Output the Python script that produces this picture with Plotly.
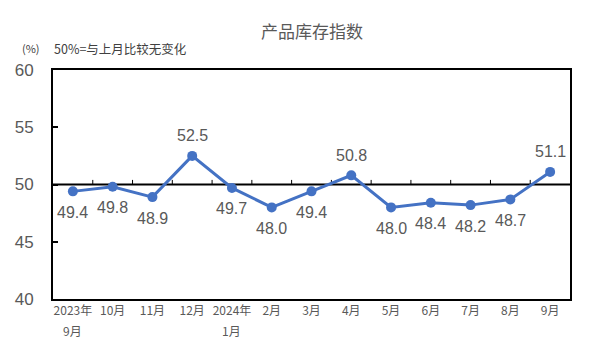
import plotly.graph_objects as go

cat_line1 = ["2023年", "10月", "11月", "12月", "2024年", "2月", "3月", "4月", "5月", "6月", "7月", "8月", "9月"]
cat_line2 = ["9月", "", "", "", "1月", "", "", "", "", "", "", "", ""]
values = [49.4, 49.8, 48.9, 52.5, 49.7, 48.0, 49.4, 50.8, 48.0, 48.4, 48.2, 48.7, 51.1]
label_above = [False, False, False, True, False, False, False, True, False, False, False, False, True]
y_ticks = [40, 45, 50, 55, 60]
baseline = 50

CJK = "Noto Sans CJK SC"
NUM = "Liberation Sans, Arial"
xs = list(range(len(values)))
boundaries = [x + 0.5 for x in xs[:-1]]

fig = go.Figure()

# small category tick marks on the 50 baseline
tx, ty = [], []
for b in boundaries:
    tx += [b, b, None]
    ty += [baseline, baseline + 0.4, None]
fig.add_trace(go.Scatter(x=tx, y=ty, mode="lines", line=dict(color="black", width=1),
                         hoverinfo="skip", showlegend=False))

fig.add_trace(go.Scatter(
    x=xs, y=values, mode="lines+markers",
    line=dict(color="#4472C4", width=3),
    marker=dict(color="#4472C4", size=10),
    hoverinfo="skip", showlegend=False, cliponaxis=False,
))

for x, v, up in zip(xs, values, label_above):
    fig.add_annotation(x=x, y=v, text=f"{v:.1f}", showarrow=False,
                       yshift=20 if up else -21,
                       font=dict(family=NUM, size=16, color="#595959"))

for x, t in zip(xs, cat_line2):
    if t:
        fig.add_annotation(x=x, y=0, yref="paper", text=t, showarrow=False,
                           yshift=-31, yanchor="middle",
                           font=dict(family=CJK, size=12, color="#595959"))

fig.add_annotation(xref="paper", yref="paper", x=0.5, y=1, yshift=40, xanchor="center",
                   yanchor="middle", text="产品库存指数", showarrow=False,
                   font=dict(family=CJK, size=17, color="#595959"))
fig.add_annotation(xref="paper", yref="paper", x=0, y=1, xshift=-33, yshift=22,
                   xanchor="left", yanchor="middle", text="(%)", showarrow=False,
                   font=dict(family=CJK, size=11, color="#404040"))
fig.add_annotation(xref="paper", yref="paper", x=0, y=1, xshift=-1, yshift=22,
                   xanchor="left", yanchor="middle", text="50%=与上月比较无变化", showarrow=False,
                   font=dict(family=CJK, size=12.5, color="#404040"))

fig.add_shape(type="line", xref="paper", yref="y", x0=0, x1=1, y0=baseline, y1=baseline,
              line=dict(color="black", width=2), layer="below")

fig.update_layout(
    width=591, height=354,
    margin=dict(l=53, r=21, t=70, b=55),
    paper_bgcolor="white", plot_bgcolor="white",
    xaxis=dict(tickmode="array", tickvals=xs, ticktext=cat_line1,
               range=[-0.5, len(values) - 0.5],
               showline=True, mirror=True, linecolor="black", linewidth=2,
               showgrid=False, zeroline=False, ticks="",
               tickfont=dict(family=CJK, size=12, color="#595959")),
    yaxis=dict(range=[40, 60], tickvals=y_ticks, showline=True, mirror=True,
               linecolor="black", linewidth=2, showgrid=False, zeroline=False,
               ticks="inside", ticklen=5, tickcolor="black", tickwidth=2,
               ticklabelstandoff=14,
               tickfont=dict(family=NUM, size=17, color="#595959")),
)

fig.write_html("out.html")
